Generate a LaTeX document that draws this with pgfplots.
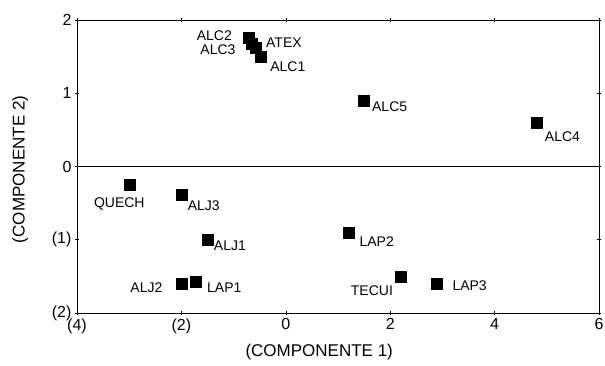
\documentclass[border=0pt]{standalone}
\usepackage{fontspec}
\setmainfont{Liberation Sans}
\usepackage{pgfplots}
\pgfplotsset{compat=1.18}
\begin{document}
\begin{tikzpicture}[x=1pt,y=1pt]
\path[use as bounding box] (-77,-52) rectangle (528,313);
\begin{axis}[
  at={(0,0)}, anchor=south west,
  scale only axis,
  width=522pt, height=293pt,
  xmin=-4, xmax=6, ymin=-2, ymax=2,
  xtick={-4,-2,0,2,4,6},
  xticklabels={(4),(2),0,2,4,6},
  ytick={-2,-1,0,1,2},
  yticklabels={(2),(1),0,1,2},
  tick align=center,
  major tick length=4pt,
  tick style={black, line width=0.6pt},
  axis line style={line width=0.8pt},
  ticklabel style={font=\fontsize{16}{18}\selectfont},
  xlabel={(COMPONENTE 1)},
  ylabel={(COMPONENTE 2)},
  label style={font=\fontsize{17}{19}\selectfont},
  xlabel style={at={(axis description cs:0.464,-0.133)}, anchor=center},
  ylabel style={at={(axis description cs:-0.109,0.49)}, anchor=center, rotate=0},
  clip=false,
]
\addplot[black, line width=0.8pt, forget plot] coordinates {(-4,0) (6,0)};
\addplot[only marks, mark=square*, mark size=5.5pt, black] coordinates {
(-0.72,1.76) (-0.66,1.68) (-0.58,1.62) (-0.48,1.5)
(1.5,0.9) (4.8,0.6)
(-3.0,-0.25) (-2.0,-0.38) (-1.5,-1.0)
(-2.0,-1.6) (-1.72,-1.57)
(1.2,-0.9) (2.2,-1.51) (2.9,-1.6)
};
\begin{scope}[every node/.style={font=\fontsize{14}{16}\selectfont, inner sep=0pt}]
\node[anchor=east] at (axis cs:-1.03,1.79) {ALC2};
\node[anchor=east] at (axis cs:-0.96,1.59) {ALC3};
\node[anchor=west] at (axis cs:-0.38,1.69) {ATEX};
\node[anchor=west] at (axis cs:-0.30,1.36) {ALC1};
\node[anchor=west] at (axis cs:1.65,0.81) {ALC5};
\node[anchor=west] at (axis cs:4.96,0.41) {ALC4};
\node at (axis cs:-3.19,-0.51) {QUECH};
\node[anchor=west] at (axis cs:-1.88,-0.54) {ALJ3};
\node[anchor=west] at (axis cs:-1.38,-1.085) {ALJ1};
\node[anchor=east] at (axis cs:-2.36,-1.66) {ALJ2};
\node[anchor=west] at (axis cs:-1.51,-1.66) {LAP1};
\node[anchor=west] at (axis cs:1.41,-1.03) {LAP2};
\node at (axis cs:1.65,-1.70) {TECUI};
\node[anchor=west] at (axis cs:3.19,-1.63) {LAP3};
\end{scope}
\end{axis}
\end{tikzpicture}
\end{document}
